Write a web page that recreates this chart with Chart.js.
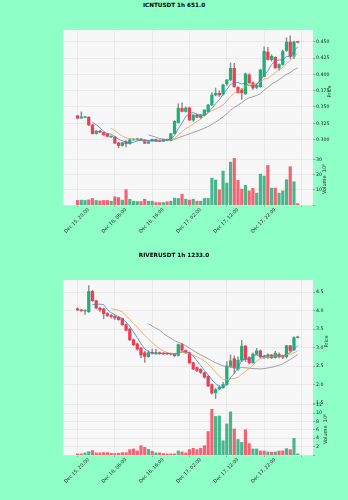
<!DOCTYPE html>
<html><head><meta charset="utf-8">
<script src="https://cdn.jsdelivr.net/npm/chart.js@4.4.1/dist/chart.umd.min.js"></script>
<style>
html,body{margin:0;padding:0;background:#8effc7;}
#wrap{position:relative;width:348px;height:500px;overflow:hidden;}
.fig{position:absolute;left:0;width:348px;height:250px;}
.title{position:absolute;left:0;top:0;width:348px;height:10px;line-height:10px;text-align:center;font-family:"DejaVu Sans";font-weight:bold;font-size:5.7px;color:#000;}
canvas{position:absolute;left:0;}
</style></head><body>
<div id="wrap">
  <div class="fig" style="top:0px">
    <div class="title">ICNTUSDT 1h 651.0</div>
    <canvas id="p1" width="348" height="165" style="top:0px;width:348px;height:165px"></canvas>
    <canvas id="v1" width="348" height="107" style="top:143px;width:348px;height:107px"></canvas>
  </div>
  <div class="fig" style="top:250px">
    <div class="title">RIVERUSDT 1h 1233.0</div>
    <canvas id="p2" width="348" height="165" style="top:0px;width:348px;height:165px"></canvas>
    <canvas id="v2" width="348" height="107" style="top:143px;width:348px;height:107px"></canvas>
  </div>
</div>
<script>
// ---------- data ----------
const tickLabels = ['Dec 15, 20:00','Dec 16, 06:00','Dec 16, 16:00','Dec 17, 02:00','Dec 17, 12:00','Dec 17, 22:00'];

const icntOpen  = [.3365,.3330,.3340,.3345,.3225,.3093,.3132,.3108,.3085,.3040,.3040,.2950,.2910,.2968,.2938,.2995,.3002,.3010,.2995,.2945,.2980,.3005,.2990,.2975,.3005,.2985,.3090,.3260,.3480,.3432,.3485,.3300,.3377,.3340,.3377,.3430,.3530,.3683,.3710,.3695,.3852,.3913,.4092,.3801,.3765,.3702,.3990,.3870,.3800,.3811,.3967,.4340,.4226,.4260,.4100,.4150,.4365,.4495,.4276,.4500];
const icntHigh  = [.3372,.3425,.3352,.3350,.3232,.3140,.3142,.3115,.3092,.3058,.3045,.2958,.2960,.2985,.3015,.3018,.3020,.3015,.3000,.2988,.3010,.3010,.2998,.3010,.3010,.3095,.3290,.3550,.3565,.3500,.3500,.3385,.3390,.3385,.3460,.3540,.3720,.3790,.3745,.3850,.3925,.4175,.4170,.3810,.3780,.4020,.4010,.3885,.3860,.4080,.4420,.4415,.4300,.4270,.4160,.4370,.4560,.4590,.4510,.4505];
const icntLow   = [.3318,.3325,.3332,.3215,.3085,.3085,.3105,.3068,.3045,.3032,.2940,.2875,.2900,.2890,.2932,.2990,.2995,.2990,.2938,.2940,.2975,.2970,.2968,.2970,.2980,.2980,.3085,.3255,.3425,.3420,.3295,.3280,.3335,.3320,.3365,.3425,.3525,.3670,.3660,.3680,.3830,.3900,.3800,.3715,.3615,.3690,.3860,.3770,.3780,.3800,.3960,.4215,.4200,.4090,.4060,.4140,.4350,.4245,.4240,.4488];
const icntClose = [.3330,.3347,.3343,.3225,.3093,.3130,.3112,.3072,.3050,.3052,.2945,.2910,.2952,.2938,.2995,.3005,.3010,.2995,.2945,.2980,.3005,.2975,.2975,.3005,.2985,.3090,.3280,.3480,.3432,.3485,.3300,.3377,.3342,.3377,.3453,.3530,.3683,.3710,.3685,.3837,.3913,.4092,.3811,.3720,.3720,.4007,.3870,.3790,.3832,.4066,.4353,.4226,.4276,.4100,.4150,.4350,.4495,.4276,.4495,.4490];
const icntVolume = [3.0,3.2,3.0,3.4,4.3,3.0,2.7,3.0,3.0,2.5,5.4,4.9,3.2,10.0,3.8,2.5,2.3,2.3,3.8,2.5,2.5,1.6,1.6,1.6,2.1,2.5,4.5,4.3,7.1,3.8,3.2,3.8,2.5,2.5,4.3,4.3,17.7,16.4,10.0,22.3,14.4,28.2,30.7,16.2,10.4,12.9,9.3,10.9,7.8,20.3,19.0,26.0,11.1,11.1,7.8,9.3,16.6,25.2,15.3,1.0];

const riverOpen  = [4.05,4.02,3.99,3.97,4.52,4.27,4.07,4.05,3.92,3.87,3.85,3.82,3.79,3.62,3.50,3.21,3.10,2.99,2.86,2.76,2.86,2.85,2.86,2.84,2.84,2.83,2.83,2.79,3.08,2.92,2.86,2.59,2.46,2.41,2.32,2.22,2.00,1.78,1.88,1.92,2.00,2.50,2.70,2.42,2.66,3.04,2.73,2.59,2.82,2.91,2.77,2.73,2.80,2.73,2.82,2.78,2.75,3.05,2.94,3.27];
const riverHigh  = [4.08,4.03,4.02,4.68,4.55,4.28,4.10,4.07,3.95,3.90,3.87,3.84,3.80,3.64,3.52,3.24,3.12,3.00,2.90,2.92,2.96,2.95,2.88,2.86,2.86,2.85,2.84,3.10,3.12,2.94,2.88,2.61,2.48,2.43,2.34,2.24,2.02,1.90,1.97,2.06,2.62,2.80,2.78,2.75,3.20,3.06,2.76,2.86,2.98,2.94,2.80,2.83,2.82,2.90,2.86,2.80,3.06,3.06,3.29,3.31];
const riverLow   = [4.00,3.98,3.90,3.95,4.25,4.05,3.98,3.78,3.84,3.80,3.76,3.74,3.60,3.45,3.19,3.05,2.93,2.72,2.60,2.74,2.82,2.82,2.82,2.81,2.81,2.80,2.76,2.77,2.91,2.84,2.56,2.40,2.35,2.30,2.17,1.94,1.74,1.62,1.85,1.90,1.98,2.45,2.30,2.38,2.62,2.62,2.55,2.57,2.80,2.72,2.70,2.71,2.70,2.71,2.72,2.70,2.72,2.88,2.92,3.26];
const riverClose = [4.02,4.00,4.00,4.52,4.27,4.07,4.02,3.92,3.87,3.84,3.80,3.76,3.62,3.47,3.21,3.08,2.96,2.80,2.76,2.86,2.85,2.86,2.84,2.83,2.83,2.82,2.78,3.08,2.93,2.86,2.59,2.42,2.38,2.33,2.20,1.96,1.77,1.86,1.92,2.00,2.50,2.64,2.45,2.66,3.04,2.68,2.59,2.82,2.91,2.75,2.73,2.80,2.73,2.85,2.75,2.74,3.05,2.92,3.27,3.29];
const riverVolume = [0.26,0.26,0.5,0.8,1.05,0.5,0.5,0.57,0.57,0.42,0.34,0.42,0.57,0.57,1.28,1.44,0.97,2.23,1.83,1.36,0.89,0.5,0.5,0.34,0.26,0.26,0.26,0.97,0.73,0.5,1.28,1.6,1.28,1.6,2.23,5.6,10.9,9.2,9.3,3.4,7.4,10.3,6.2,3.7,3.0,6.0,2.7,1.44,1.44,0.97,0.97,0.73,0.65,0.73,0.97,0.97,1.52,1.28,3.96,0.26];

const maPeriods = [5, 10, 20];

// ---------- styling ----------
Chart.defaults.font.family = 'DejaVu Sans';
Chart.defaults.animation = false;
const UP = '#1fae76', DOWN = '#f23a50';
const VUP = 'rgba(40,170,120,0.85)', VDOWN = 'rgba(244,72,90,0.85)';
const WICK = '#8e8e8e';
const MA_COLORS = ['#3a86c8', '#f0a050', '#8a8a8a'];
const GRID = '#e1e1e1', PANEL = '#f7f7f7', TXT = '#222';
const X_MIN = -3.9, X_MAX = 63.1;

function sma(vals, n) {
  return vals.map((v, i) => i < n - 1 ? null : vals.slice(i - n + 1, i + 1).reduce((a, b) => a + b, 0) / n);
}

const bgPlugin = {
  id: 'bgPanel',
  beforeDraw(chart) {
    const a = chart.chartArea, c = chart.ctx;
    c.save(); c.fillStyle = PANEL; c.fillRect(a.left, a.top, a.right - a.left, a.bottom - a.top); c.restore();
  }
};
const titlePlugin = {
  id: 'axTitle',
  afterDraw(chart, args, opts) {
    if (!opts || !opts.text) return;
    const c = chart.ctx, a = chart.chartArea;
    c.save();
    c.translate(opts.x, (a.top + a.bottom) / 2);
    c.rotate(-Math.PI / 2);
    c.fillStyle = TXT; c.font = '5px "DejaVu Sans"';
    c.textAlign = 'center'; c.textBaseline = 'middle';
    c.fillText(opts.text, 0, 0);
    c.restore();
  }
};

function xAxis(showLabels) {
  return {
    type: 'linear', min: X_MIN, max: X_MAX, offset: false,
    grid: { color: GRID, lineWidth: 0.6, offset: false, drawTicks: showLabels, tickLength: 2, tickColor: '#777' },
    border: { display: false },
    ticks: {
      display: showLabels, stepSize: 10, includeBounds: false, autoSkip: false,
      maxRotation: 45, minRotation: 45, labelOffset: 11, padding: 0,
      font: { size: 4.7 }, color: TXT,
      callback: v => { const k = Math.round(v / 10); return tickLabels[k] !== undefined ? tickLabels[k] : ''; }
    },
    afterFit: s => { s.height = showLabels ? 45 : 12; }
  };
}
function yAxis(min, max, step, fmt) {
  return {
    position: 'right', min, max,
    grid: { color: GRID, lineWidth: 0.6, drawTicks: true, tickLength: 2, tickColor: '#777' },
    border: { display: false },
    ticks: { stepSize: step, includeBounds: false, font: { size: 4.7 }, color: TXT, padding: 1, callback: fmt },
    afterFit: s => { s.width = 35; }
  };
}

function pricePanel(id, O, H, L, C, yr, priceTitleX) {
  const idx = C.map((_, i) => i);
  const up = idx.map(i => C[i] >= O[i]);
  const ds = [
    { type: 'bar', label: 'wick', data: idx.map(i => ({ x: i, y: [L[i], H[i]] })), backgroundColor: WICK,
      barThickness: 0.8, grouped: false, order: 3, borderWidth: 0 },
    { type: 'bar', label: 'body', data: idx.map(i => ({ x: i, y: [O[i], C[i]] })),
      backgroundColor: idx.map(i => up[i] ? UP : DOWN), barThickness: 2.6, minBarLength: 0.8,
      grouped: false, order: 2, borderWidth: 0 }
  ];
  maPeriods.forEach((n, k) => {
    const m = sma(C, n);
    ds.push({ type: 'line', label: 'MA' + n, data: idx.map(i => ({ x: i, y: m[i] })),
      borderColor: MA_COLORS[k], borderWidth: 0.8, pointRadius: 0, fill: false, order: 1, tension: 0 });
  });
  return new Chart(document.getElementById(id), {
    type: 'bar',
    data: { datasets: ds },
    options: {
      responsive: false, devicePixelRatio: 1,
      layout: { padding: { left: 63, top: 30, right: 0, bottom: 0 } },
      plugins: { legend: { display: false }, tooltip: { enabled: false },
        axTitle: { text: 'Price', x: priceTitleX } },
      scales: { x: xAxis(false), y: yAxis(yr[0], yr[1], yr[2], yr[3]) }
    },
    plugins: [bgPlugin, titlePlugin]
  });
}

function volumePanel(id, O, C, V, yr, titleX) {
  const idx = V.map((_, i) => i);
  return new Chart(document.getElementById(id), {
    type: 'bar',
    data: { datasets: [{ type: 'bar', label: 'Volume', data: idx.map(i => ({ x: i, y: V[i] })),
      backgroundColor: idx.map(i => C[i] >= O[i] ? VUP : VDOWN), barThickness: 2.5, grouped: false, borderWidth: 0 }] },
    options: {
      responsive: false, devicePixelRatio: 1,
      layout: { padding: { left: 63, top: 10, right: 0, bottom: 0 } },
      plugins: { legend: { display: false }, tooltip: { enabled: false },
        axTitle: { text: 'Volume  10\u2076', x: titleX } },
      scales: { x: xAxis(true), y: yAxis(yr[0], yr[1], yr[2], yr[3]) }
    },
    plugins: [bgPlugin, titlePlugin]
  });
}

pricePanel('p1', icntOpen, icntHigh, icntLow, icntClose, [0.2795, 0.4679, 0.025, v => v.toFixed(3)], 330);
volumePanel('v1', icntOpen, icntClose, icntVolume, [0, 34.2, 10, v => v === 0 ? '' : String(Math.round(v))], 325);
pricePanel('p2', riverOpen, riverHigh, riverLow, riverClose, [1.5, 4.83, 0.5, v => v.toFixed(1)], 326.5);
volumePanel('v2', riverOpen, riverClose, riverVolume, [0, 12.4, 2, v => v === 0 ? '' : String(Math.round(v))], 326);
</script>
</body></html>
